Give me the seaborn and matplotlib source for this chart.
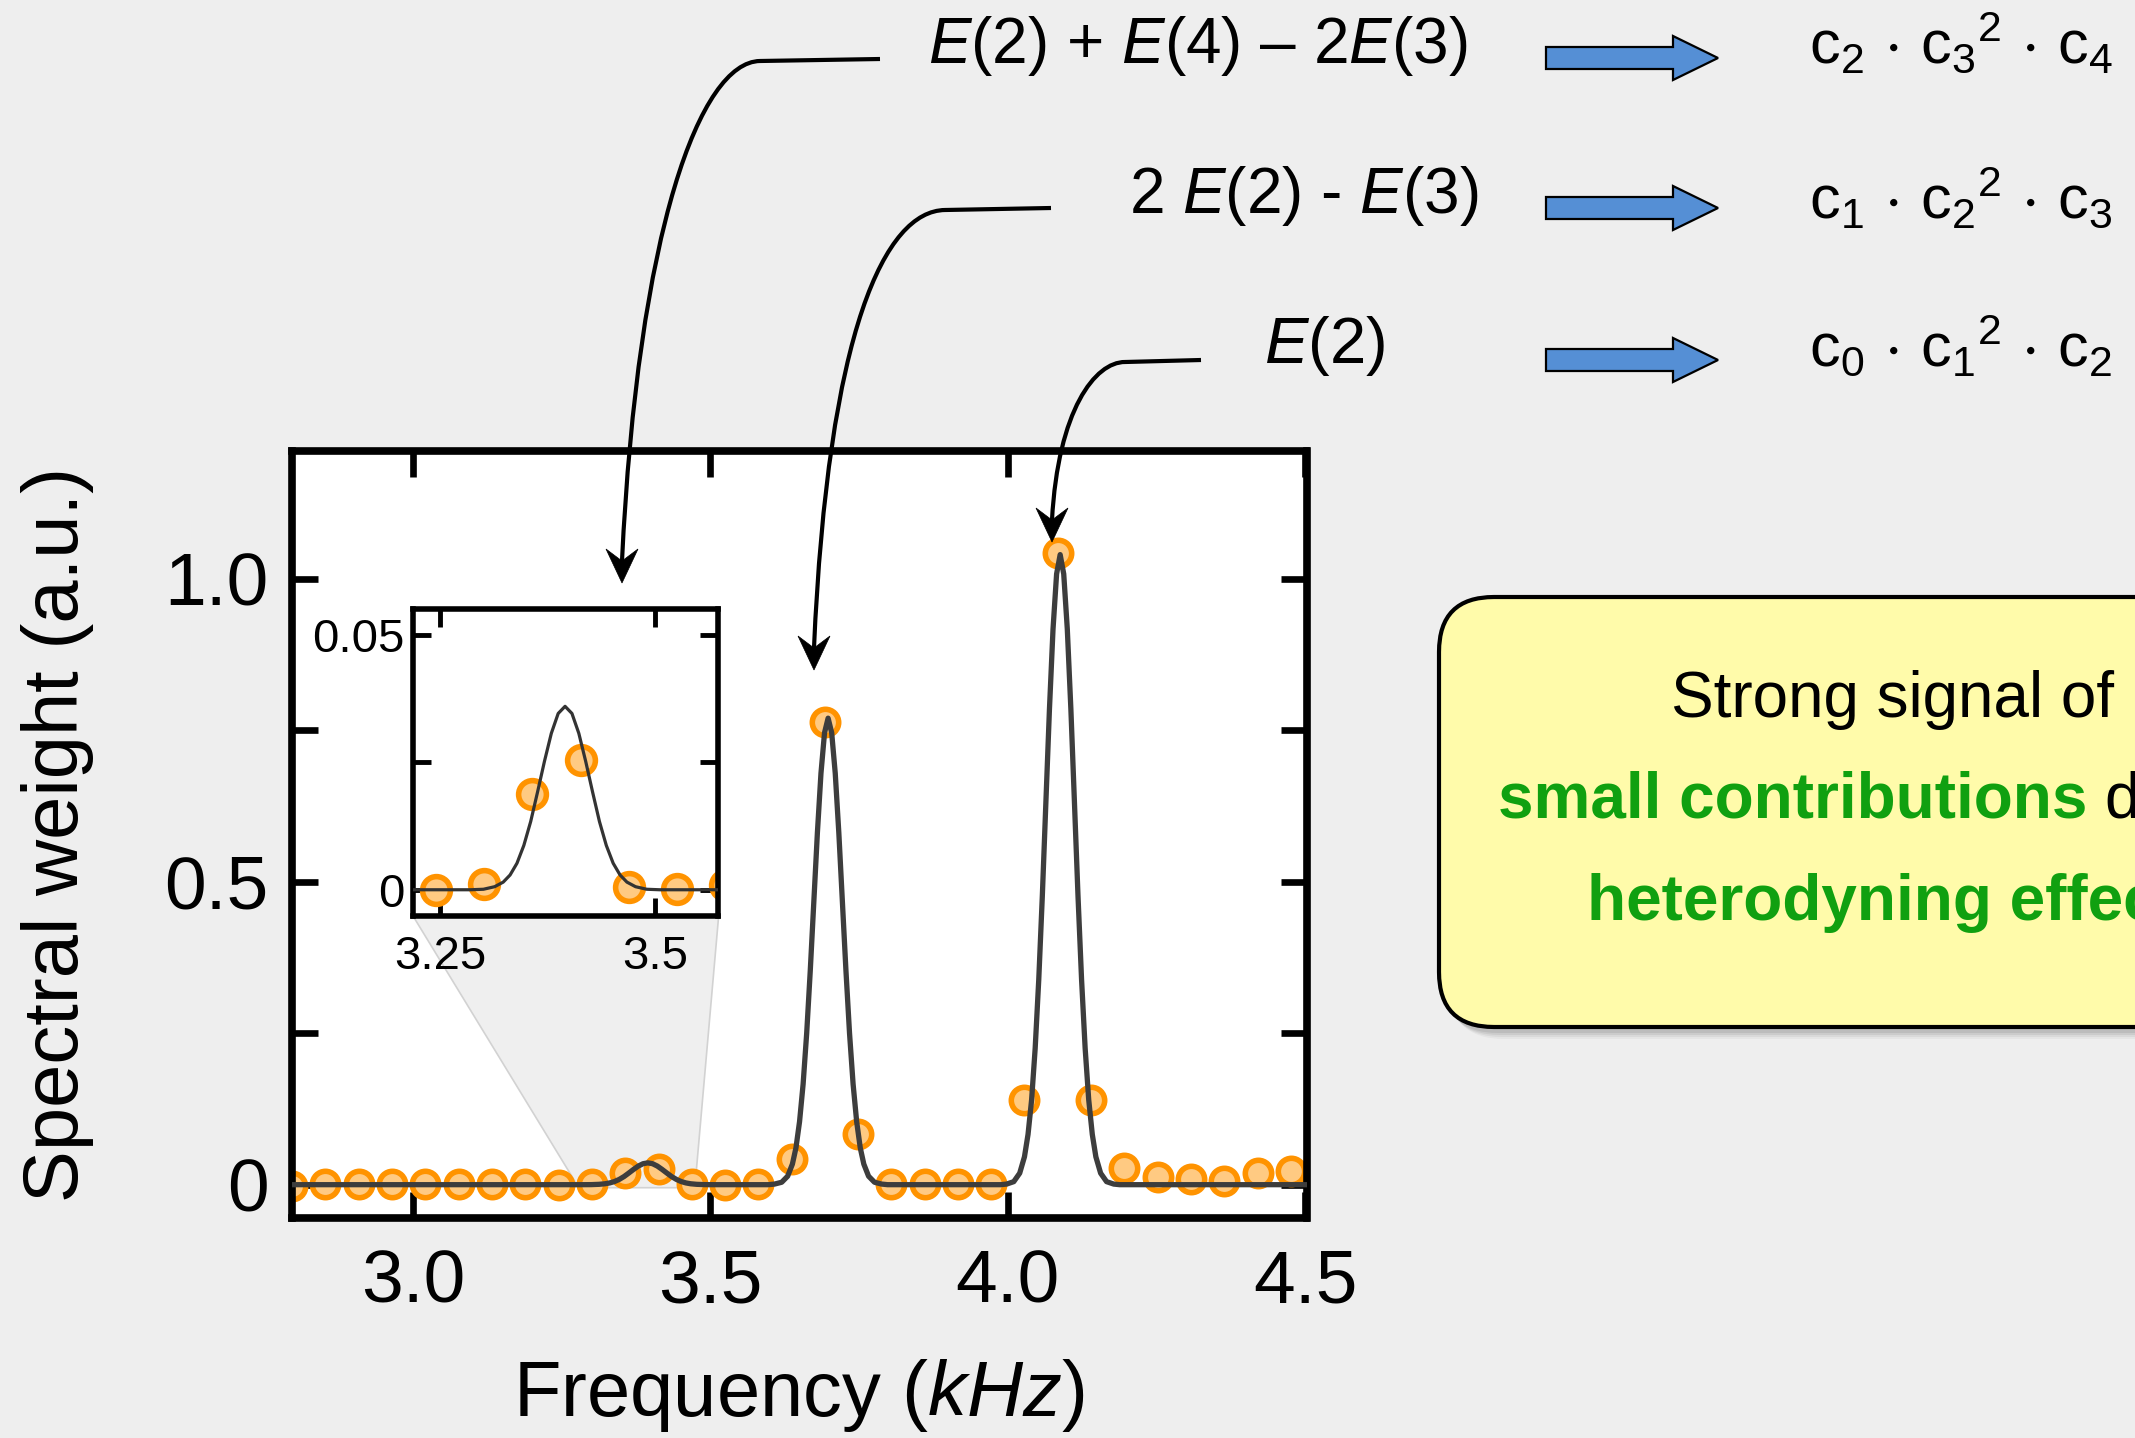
import matplotlib
matplotlib.use("Agg")
import matplotlib.pyplot as plt
import seaborn as sns
import pandas as pd
from matplotlib.patches import Polygon, FancyBboxPatch, PathPatch
from matplotlib.path import Path

# ---------------- data ----------------
freq_khz = [2.797, 2.853, 2.909, 2.965, 3.021, 3.077, 3.133, 3.189, 3.245, 3.301,
            3.357, 3.413, 3.469, 3.525, 3.581, 3.637, 3.692, 3.748, 3.804, 3.860,
            3.916, 3.972, 4.028, 4.084, 4.140, 4.196, 4.252, 4.308, 4.364, 4.420, 4.476]
weight = [-0.002, 0.001, 0.001, 0.001, 0.001, 0.001, 0.001, 0.001, 0.0, 0.0011,
          0.0188, 0.0254, 0.0005, 0.0001, 0.001, 0.043, 0.763, 0.083, 0.001, 0.001,
          0.001, 0.001, 0.139, 1.042, 0.139, 0.027, 0.012, 0.010, 0.006, 0.020, 0.022]

fit_x = [2.790, 3.285, 3.300, 3.313, 3.323, 3.331, 3.339, 3.347, 3.355, 3.363, 3.371,
         3.379, 3.387, 3.395, 3.403, 3.411, 3.419, 3.427, 3.435, 3.443, 3.451, 3.459,
         3.467, 3.477, 3.490, 3.505,
         3.598, 3.608, 3.620, 3.630, 3.638, 3.644, 3.650, 3.656, 3.662, 3.668, 3.674,
         3.680, 3.686, 3.692, 3.698, 3.704, 3.710, 3.716, 3.722, 3.728, 3.734, 3.740,
         3.746, 3.752, 3.758, 3.766, 3.776, 3.788, 3.798,
         3.988, 3.998, 4.010, 4.020, 4.028, 4.034, 4.040, 4.046, 4.052, 4.058, 4.064,
         4.070, 4.076, 4.082, 4.088, 4.094, 4.100, 4.106, 4.112, 4.118, 4.124, 4.130,
         4.136, 4.142, 4.148, 4.156, 4.166, 4.178, 4.188, 4.510]
fit_y = [0.0, 0.0, 0.0001, 0.0006, 0.0015, 0.0029, 0.0052, 0.0087, 0.0134, 0.0192, 0.0252,
         0.0307, 0.0346, 0.0360, 0.0346, 0.0307, 0.0252, 0.0192, 0.0134, 0.0087, 0.0052, 0.0029,
         0.0015, 0.0006, 0.0001, 0.0,
         0.0, 0.001, 0.004, 0.014, 0.034, 0.061, 0.104, 0.166, 0.250, 0.353, 0.467,
         0.581, 0.679, 0.746, 0.770, 0.746, 0.679, 0.581, 0.467, 0.353, 0.250, 0.166,
         0.104, 0.061, 0.034, 0.014, 0.004, 0.001, 0.0,
         0.0, 0.001, 0.005, 0.019, 0.046, 0.083, 0.140, 0.225, 0.338, 0.476, 0.631,
         0.785, 0.917, 1.008, 1.040, 1.008, 0.917, 0.785, 0.631, 0.476, 0.338, 0.225,
         0.140, 0.083, 0.046, 0.019, 0.005, 0.001, 0.0, 0.0]

main_xticks = [3.0, 3.5, 4.0, 4.5]
main_xticklabels = ["3.0", "3.5", "4.0", "4.5"]
main_yticks = [0.0, 0.25, 0.5, 0.75, 1.0]
main_yticklabels = ["0", "", "0.5", "", "1.0"]
inset_xticks = [3.25, 3.5]
inset_xticklabels = ["3.25", "3.5"]
inset_yticks = [0.0, 0.025, 0.05]
inset_yticklabels = ["0", "", "0.05"]

combo_labels = [r"$E$(2) + $E$(4) – 2$E$(3)", r"2 $E$(2) - $E$(3)", r"$E$(2)"]
product_labels = [r"$\mathregular{c_2\,\cdot\,c_3{}^{2}\,\cdot\,c_4}$",
                  r"$\mathregular{c_1\,\cdot\,c_2{}^{2}\,\cdot\,c_3}$",
                  r"$\mathregular{c_0\,\cdot\,c_1{}^{2}\,\cdot\,c_2}$"]

# ---------------- style ----------------
sns.set_theme(style="white")
plt.rcParams["font.family"] = ["Liberation Sans", "DejaVu Sans"]
plt.rcParams["mathtext.fontset"] = "custom"
plt.rcParams["mathtext.rm"] = "Liberation Sans"
plt.rcParams["mathtext.it"] = "Liberation Sans:italic"
plt.rcParams["mathtext.bf"] = "Liberation Sans:bold"

BG = "#eeeeee"
EDGE_OR = "#ff9300"
FILL_OR = "#ffca82"
CURVE = "#3d3d3d"
GREEN = "#10a010"

W, H = 2135, 1438
fig = plt.figure(figsize=(W / 100, H / 100), dpi=100, facecolor=BG)

def fr(x0, y0, x1, y1):
    return [x0 / W, 1 - y1 / H, (x1 - x0) / W, (y1 - y0) / H]

pts = pd.DataFrame({"freq": freq_khz, "weight": weight})
fit = pd.DataFrame({"freq": fit_x, "weight": fit_y})

# ---------------- main axes ----------------
ax = fig.add_axes(fr(292, 451, 1306.5, 1218))
ax.set_facecolor("white")
sns.scatterplot(data=pts, x="freq", y="weight", ax=ax, s=19 ** 2, color=FILL_OR,
                edgecolor=EDGE_OR, linewidth=4.0, zorder=2)
sns.lineplot(data=fit, x="freq", y="weight", ax=ax, color=CURVE, lw=3.8,
             sort=False, estimator=None, zorder=3)
ax.set_xlim(2.797, 4.502)
ax.set_ylim(-0.055, 1.211)
ax.set_xticks(main_xticks)
ax.set_xticklabels(main_xticklabels)
ax.set_yticks(main_yticks)
ax.set_yticklabels(main_yticklabels)
ax.tick_params(axis="both", which="major", direction="in", length=19, width=4.8,
               top=True, right=True, bottom=True, left=True, labelsize=54, colors="black")
ax.tick_params(axis="x", pad=22)
ax.tick_params(axis="y", pad=17)
for sp in ax.spines.values():
    sp.set_color("black")
    sp.set_linewidth(5.5)
ax.set_xlabel("Frequency ($kHz$)", fontsize=56, color="black")
ax.set_ylabel("Spectral weight (a.u.)", fontsize=56, color="black")
ax.xaxis.set_label_coords(0.5, -0.232)
ax.xaxis.label.set_va("center")
ax.yaxis.set_label_coords(-0.2316, 0.5007)
ax.yaxis.label.set_va("center")
ax.yaxis.label.set_ha("center")

# zoom trapezoid linking inset to the bump
trap = Polygon([(3.0007, 0.443), (3.514, 0.443), (3.474, -0.005), (3.279, -0.005)],
               closed=True, facecolor="#efefef", edgecolor="#d2d2d2", lw=1.2, zorder=1)
ax.add_patch(trap)

# ---------------- inset ----------------
ins = fig.add_axes(fr(413, 609, 718, 916))
ins.set_facecolor("white")
sns.scatterplot(data=pts, x="freq", y="weight", ax=ins, s=20 ** 2, color=FILL_OR,
                edgecolor=EDGE_OR, linewidth=4.0, zorder=2)
sns.lineplot(data=fit, x="freq", y="weight", ax=ins, color="#333333", lw=2.3,
             sort=False, estimator=None, zorder=3)
ins.set_xlim(3.218, 3.573)
ins.set_ylim(-0.00515, 0.0551)
ins.set_xticks(inset_xticks)
ins.set_xticklabels(inset_xticklabels)
ins.set_yticks(inset_yticks)
ins.set_yticklabels(inset_yticklabels)
ins.tick_params(axis="both", direction="in", length=13, width=3.5, top=True, right=True,
                bottom=True, left=True, labelsize=34, colors="black")
ins.tick_params(axis="x", pad=14)
ins.tick_params(axis="y", pad=6)
ins.set_xlabel("")
ins.set_ylabel("")
for sp in ins.spines.values():
    sp.set_color("black")
    sp.set_linewidth(4.0)

# ---------------- overlay (pixel coordinates) ----------------
ov = fig.add_axes([0, 0, 1, 1], zorder=10)
ov.set_xlim(0, W)
ov.set_ylim(H, 0)
ov.axis("off")

def curved_arrow(start, corner, p1, p2, tip):
    notch = (tip[0], tip[1] - 22)
    path = Path([start, corner, p1, p2, notch],
                [Path.MOVETO, Path.LINETO, Path.CURVE4, Path.CURVE4, Path.CURVE4])
    ov.add_patch(PathPatch(path, fill=False, lw=3.0, ec="black", capstyle="butt"))
    ov.add_patch(Polygon([tip, (tip[0] - 16, tip[1] - 34), notch, (tip[0] + 16, tip[1] - 34)],
                         closed=True, fc="black", ec="black", lw=0.5))

curved_arrow((880, 59), (760, 61), (700, 62), (638, 230), (622, 583))
curved_arrow((1051, 208), (945, 210), (885, 211), (828, 330), (814, 670))
curved_arrow((1201, 360), (1125, 362), (1095, 362), (1058, 410), (1052, 542))

combo_pos = [(928, 63), (1129, 213), (1264, 363)]
combo_size = [46, 46, 47]
for lab, (x, y), fs in zip(combo_labels, combo_pos, combo_size):
    ov.text(x, y, lab, fontsize=fs, ha="left", va="baseline", color="black")

arrow_y = [58, 208, 360]
for y in arrow_y:
    ov.add_patch(Polygon([(1546, y - 11), (1673, y - 11), (1673, y - 22), (1718, y),
                          (1673, y + 22), (1673, y + 11), (1546, y + 11)],
                         closed=True, fc="#558fd5", ec="black", lw=1.6))

prod_pos = [(1809, 63), (1809, 218), (1809, 366)]
for lab, (x, y) in zip(product_labels, prod_pos):
    ov.text(x, y, lab, fontsize=44, ha="left", va="baseline", color="black")

# yellow note box (runs off the right edge)
for k, a in zip([10, 8, 6, 4], [0.06, 0.08, 0.10, 0.12]):
    ov.add_patch(FancyBboxPatch((1439 + k, 597 + k + 2), 800, 430,
                                boxstyle="round,pad=0,rounding_size=55",
                                fc="#555555", ec="none", alpha=a))
ov.add_patch(FancyBboxPatch((1439, 597), 800, 430, boxstyle="round,pad=0,rounding_size=55",
                            fc="#fffbaa", ec="black", lw=3))
ov.text(1671, 717, "Strong signal of", fontsize=46, ha="left", va="baseline", color="black")
ov.text(1498, 818, "small contributions", fontsize=46, fontweight="bold", ha="left",
        va="baseline", color=GREEN)
ov.text(2104, 818, "d", fontsize=46, ha="left", va="baseline", color="black")
ov.text(1587, 920, "heterodyning effec", fontsize=46, fontweight="bold", ha="left",
        va="baseline", color=GREEN, clip_on=True)

fig.savefig("out.png", dpi=100, facecolor=BG)
